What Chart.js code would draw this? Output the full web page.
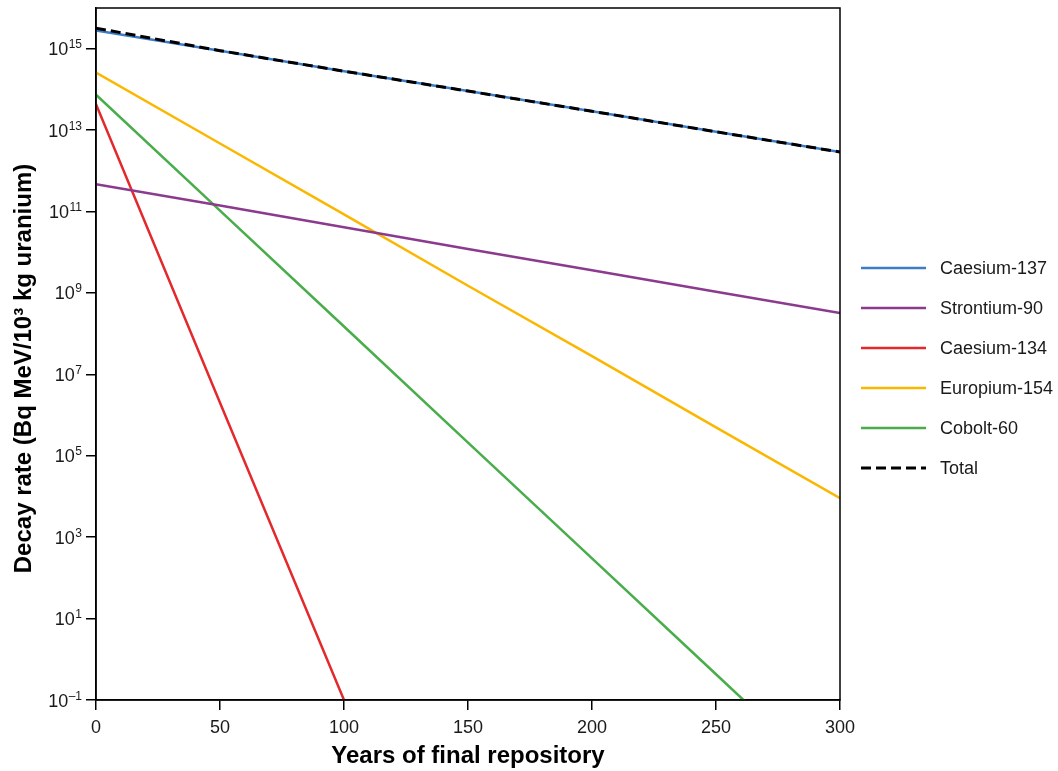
<!DOCTYPE html>
<html><head><meta charset="utf-8">
<script src="https://cdn.jsdelivr.net/npm/chart.js@4.4.1/dist/chart.umd.min.js"></script>
<style>html,body{margin:0;padding:0;background:#fff}</style>
</head><body>
<canvas id="c" width="1058" height="771"></canvas>
<script>
// ---- data ----
const years = [0, 50, 100, 150, 200, 250, 300];
const caesium137 = [2.8e15, 8.9e14, 2.8e14, 9.1e13, 2.9e13, 9.1e12, 2.9e12];
const strontium90 = [4.7e11, 1.4e11, 4.1e10, 1.2e10, 3.6e9, 1.07e9, 3.2e8];
const caesium134 = [4.3e13, 2.0e6, 0.1, null, null, null, null];
const europium154 = [2.6e14, 4.7e12, 8.5e10, 1.5e9, 2.8e7, 5.0e5, 9.1e3];
const cobalt60 = [7.4e13, 1.05e11, 1.5e8, 2.1e5, 300, 0.43, 6e-4];
const total = [3.2e15, 8.95e14, 2.8e14, 9.1e13, 2.9e13, 9.1e12, 2.9e12];
const seriesNames = ['Caesium-137', 'Strontium-90', 'Caesium-134', 'Europium-154', 'Cobolt-60', 'Total'];
const xTickValues = [0, 50, 100, 150, 200, 250, 300];
const yTickExponents = [-1, 1, 3, 5, 7, 9, 11, 13, 15];
const xTitle = 'Years of final repository';
const yTitle = 'Decay rate (Bq MeV/10\u00B3 kg uranium)';

const colors = ['#3d7dc8', '#8c3a8e', '#e3292b', '#fbb700', '#48ad4a', '#000000'];
const seriesValues = [caesium137, strontium90, caesium134, europium154, cobalt60, total];

const FONT = "'Liberation Sans', Arial, sans-serif";

const datasets = seriesValues.map((vals, i) => ({
  label: seriesNames[i],
  data: years.map((x, j) => ({x, y: vals[j]})),
  borderColor: colors[i],
  backgroundColor: colors[i],
  borderWidth: i === 5 ? 3 : 2.5,
  borderDash: i === 5 ? [10, 5] : [],
  pointRadius: 0,
  tension: 0,
  fill: false,
  spanGaps: false,
  clip: 0,
  order: i === 5 ? -1 : i
}));

const framePlugin = {
  id: 'frame',
  afterDatasetsDraw(chart) {
    const {ctx, chartArea: a} = chart;
    ctx.save();
    ctx.strokeStyle = '#000';
    ctx.lineWidth = 1.5;
    ctx.strokeRect(a.left, a.top, a.right - a.left, a.bottom - a.top);
    ctx.restore();
  }
};

// y tick labels as 10 with a raised, smaller exponent
const yLabelPlugin = {
  id: 'ylabels',
  afterDraw(chart) {
    const {ctx} = chart;
    const s = chart.scales.y;
    const right = s.right - 14;
    ctx.save();
    ctx.fillStyle = '#1a1a1a';
    ctx.textBaseline = 'alphabetic';
    ctx.textAlign = 'right';
    s.ticks.forEach(t => {
      const y = s.getPixelForValue(t.value);
      const exp = String(Math.round(Math.log10(t.value))).replace('-', '\u2013');
      ctx.font = "12px " + FONT;
      const ew = ctx.measureText(exp).width;
      ctx.fillText(exp, right, y - 0.5);
      ctx.font = "18px " + FONT;
      ctx.fillText('10', right - ew - 0.5, y + 6.5);
    });
    ctx.restore();
  }
};

const yTitlePlugin = {
  id: 'ytitle',
  afterDraw(chart) {
    const {ctx, chartArea: a} = chart;
    ctx.save();
    ctx.translate(a.left - 72, (a.top + a.bottom) / 2 + 14.5);
    ctx.rotate(-Math.PI / 2);
    ctx.font = "bold 24px " + FONT;
    ctx.fillStyle = '#000';
    ctx.textAlign = 'center';
    ctx.textBaseline = 'middle';
    ctx.fillText(yTitle, 0, 0);
    ctx.restore();
  }
};

const legendPlugin = {
  id: 'sideLegend',
  afterDraw(chart) {
    const {ctx, chartArea: a} = chart;
    const x0 = a.right + 21, lineLen = 65, textX = a.right + 100;
    const top = 268, step = 40;
    ctx.save();
    chart.data.datasets.forEach((ds, i) => {
      const y = top + i * step;
      ctx.beginPath();
      ctx.strokeStyle = ds.borderColor;
      ctx.lineWidth = ds.borderWidth;
      ctx.setLineDash(ds.borderDash || []);
      ctx.moveTo(x0, y);
      ctx.lineTo(x0 + lineLen, y);
      ctx.stroke();
      ctx.setLineDash([]);
      ctx.font = "18px " + FONT;
      ctx.fillStyle = '#1a1a1a';
      ctx.textAlign = 'left';
      ctx.textBaseline = 'middle';
      ctx.fillText(ds.label, textX, y + 1);
    });
    ctx.restore();
  }
};

new Chart(document.getElementById('c'), {
  type: 'line',
  data: {datasets},
  plugins: [framePlugin, yLabelPlugin, yTitlePlugin, legendPlugin],
  options: {
    responsive: false,
    animation: false,
    devicePixelRatio: 1,
    layout: {padding: {left: 0, top: 8, right: 218, bottom: 0}},
    plugins: {legend: {display: false}, tooltip: {enabled: false}},
    scales: {
      x: {
        type: 'linear',
        min: 0, max: 300,
        afterBuildTicks: s => { s.ticks = xTickValues.map(v => ({value: v})); },
        afterFit: s => { s.height = 71; s.paddingLeft = 0; s.paddingRight = 0; },
        ticks: {font: {family: FONT, size: 18}, color: '#1a1a1a', padding: 7, maxRotation: 0, autoSkip: false},
        grid: {display: true, drawOnChartArea: false, drawTicks: true, tickLength: 10, color: '#000', lineWidth: 1.5},
        border: {display: true, color: '#000', width: 1.5},
        title: {display: true, text: xTitle, font: {family: FONT, size: 24, weight: 'bold'}, color: '#000', padding: {top: 0, bottom: 0}}
      },
      y: {
        type: 'logarithmic',
        min: 0.1, max: 1e16,
        afterBuildTicks: s => { s.ticks = yTickExponents.map(e => ({value: Math.pow(10, e)})); },
        afterFit: s => { s.width = 96; s.paddingTop = 0; s.paddingBottom = 0; },
        ticks: {display: false},
        grid: {display: true, drawOnChartArea: false, drawTicks: true, tickLength: 10, color: '#000', lineWidth: 1.5},
        border: {display: true, color: '#000', width: 1.5},
        title: {display: false}
      }
    }
  }
});
</script>
</body></html>
